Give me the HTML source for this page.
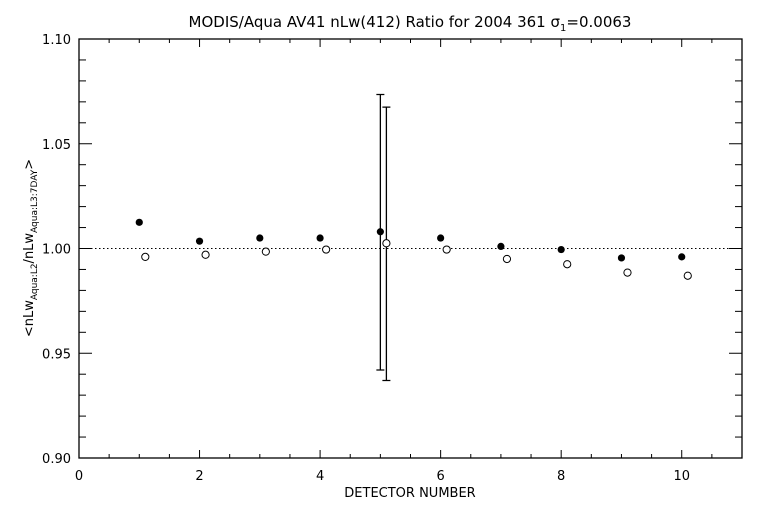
<!DOCTYPE html>
<html><head><meta charset="utf-8"><style>
body{margin:0;background:#fff}
svg text{font-family:"DejaVu Sans","Liberation Sans",sans-serif;fill:#000}
</style></head><body>
<svg id="c" width="768" height="512" xmlns="http://www.w3.org/2000/svg">
<rect width="768" height="512" fill="#fff"/>
<text x="410" y="27" text-anchor="middle" font-size="15">MODIS/Aqua AV41 nLw(412) Ratio for 2004 361 σ<tspan font-size="10" dy="4">1</tspan><tspan dy="-4">=0.0063</tspan></text>
<text x="410" y="497" text-anchor="middle" font-size="13">DETECTOR NUMBER</text>
<text transform="translate(33,248) rotate(-90)" text-anchor="middle" font-size="13">&lt;nLw<tspan font-size="9" dy="4">Aqua:L2</tspan><tspan dy="-4">/nLw</tspan><tspan font-size="9" dy="4">Aqua:L3:7DAY</tspan><tspan dy="-4">&gt;</tspan></text>
<g id="g"></g>
</svg>
<script>
const detectors=[1,2,3,4,5,6,7,8,9,10];
const filledVals=[1.0125,1.0035,1.005,1.005,1.008,1.005,1.001,0.9995,0.9955,0.996];
const openVals=[0.996,0.997,0.9985,0.9995,1.0025,0.9995,0.995,0.9925,0.9885,0.987];
const errDetectors=[5,5.1];
const errHigh=[1.0735,1.0675];
const errLow=[0.942,0.937];
const xTicks=[0,2,4,6,8,10];
const yTicks=[0.90,0.95,1.00,1.05,1.10];
const L=79,R=742,T=39,B=458,X0=0,X1=11,Y0=0.90,Y1=1.10;
const sx=v=>L+(v-X0)/(X1-X0)*(R-L);
const sy=v=>B-(v-Y0)/(Y1-Y0)*(B-T);
const g=document.getElementById('g');
const NS='http://www.w3.org/2000/svg';
function mk(t,a){const e=document.createElementNS(NS,t);for(const k in a)e.setAttribute(k,a[k]);g.appendChild(e);return e;}
let e=mk('rect',{x:L,y:T,width:R-L,height:B-T,fill:'none',stroke:'#000','stroke-width':1.3});


e=mk('line',{x1:L,x2:R,y1:sy(1),y2:sy(1),stroke:'#000','stroke-dasharray':'1.5,2.5'});


for(let v=0;v<=11.001;v+=0.5){const maj=Math.abs(v/2-Math.round(v/2))<1e-6;const len=maj?8:4;const x=sx(v);
mk('line',{x1:x,x2:x,y1:B,y2:B-len,stroke:'#000'});mk('line',{x1:x,x2:x,y1:T,y2:T+len,stroke:'#000'});}
for(let i=0;i<=20;i++){const v=Y0+i*0.01;const maj=i%5==0;const len=maj?13:7;const y=sy(v);
mk('line',{x1:L,x2:L+len,y1:y,y2:y,stroke:'#000'});mk('line',{x1:R,x2:R-len,y1:y,y2:y,stroke:'#000'});}
xTicks.forEach(v=>{e=mk('text',{x:sx(v),y:B+22,'text-anchor':'middle','font-size':13});e.textContent=v;

});
yTicks.forEach(v=>{e=mk('text',{x:L-8,y:sy(v)+5,'text-anchor':'end','font-size':13});e.textContent=v.toFixed(2);

});
errDetectors.forEach((d,i)=>{const x=sx(d),y1=sy(errHigh[i]),y2=sy(errLow[i]);
e=mk('path',{d:`M${x},${y1}V${y2}M${x-4},${y1}H${x+4}M${x-4},${y2}H${x+4}`,stroke:'#000','stroke-width':1.3,fill:'none'});

});
detectors.forEach((d,i)=>{
e=mk('circle',{cx:sx(d),cy:sy(filledVals[i]),r:3.6,fill:'#000'});


e=mk('circle',{cx:sx(d+0.1),cy:sy(openVals[i]),r:3.6,fill:'#fff',stroke:'#000','stroke-width':1});

});
</script>
</body></html>
